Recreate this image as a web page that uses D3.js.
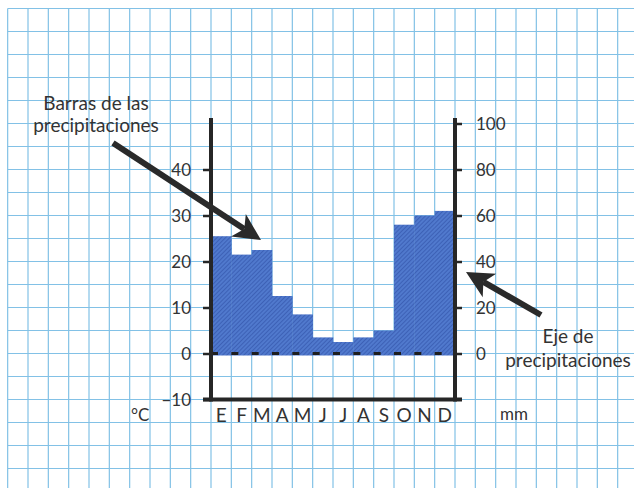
<!DOCTYPE html>
<html>
<head>
<meta charset="utf-8">
<script src="https://cdn.jsdelivr.net/npm/d3@7/dist/d3.min.js"></script>
<style>
  html, body { margin: 0; padding: 0; background: #ffffff; }
  svg { display: block; }
  text { font-family: Lato, "Open Sans", sans-serif; fill: #333333; }
</style>
</head>
<body>
<svg id="chart" width="634" height="488"></svg>
<script>
// ---- data ----
const months = ["E", "F", "M", "A", "M", "J", "J", "A", "S", "O", "N", "D"];
const precipitation = [51, 43, 45, 25, 17, 7, 5, 7, 10, 56, 60, 62]; // mm
const tempTicks = [-10, 0, 10, 20, 30, 40];        // °C
const precipTicks = [0, 20, 40, 60, 80, 100];      // mm
const leftNote = ["Barras de las", "precipitaciones"];
const rightNote = ["Eje de", "precipitaciones"];

const W = 634, H = 488;
const svg = d3.select("#chart");

// ---- scales ----
const x = d3.scaleBand().domain(d3.range(months.length)).range([211, 455]).padding(0);
const yT = d3.scaleLinear().domain([-10, 50]).range([399.5, 123.5]);
const yP = d3.scaleLinear().domain([0, 100]).range([yT(0), yT(50)]);
const bw = x.bandwidth();

// ---- grid paper ----
const gridColor = "#82c1e6";
const gx0 = x(0) - 10 * bw;
const gy0 = yT(75);
const grid = svg.append("g");
const vCols = d3.range(-10, 23 + 10).map(k => x(0) + k * bw).filter(v => v >= gx0 - 0.5 && v <= W);
grid.selectAll("line.v").data(vCols).join("line")
  .attr("x1", d => d).attr("x2", d => d)
  .attr("y1", gy0).attr("y2", H)
  .attr("stroke", gridColor).attr("stroke-width", 1.2);
const hRows = d3.range(75, -35, -5).map(t => yT(t)).filter(v => v >= gy0 - 0.5 && v <= H);
grid.selectAll("line.h").data(hRows).join("line")
  .attr("x1", gx0).attr("x2", W)
  .attr("y1", d => d).attr("y2", d => d)
  .attr("stroke", gridColor).attr("stroke-width", 1.2);

// ---- hatch pattern ----
const defs = svg.append("defs");
const pat = defs.append("pattern").attr("id", "hatch")
  .attr("patternUnits", "userSpaceOnUse").attr("width", 3).attr("height", 3)
  .attr("patternTransform", "rotate(45)");
pat.append("rect").attr("width", 3).attr("height", 3).attr("fill", "#5079cd");
pat.append("line").attr("x1", 0.5).attr("x2", 0.5).attr("y1", 0).attr("y2", 3)
  .attr("stroke", "#3d61b6").attr("stroke-width", 1);

// ---- bars ----
svg.append("g").selectAll("rect").data(precipitation).join("rect")
  .attr("x", (d, i) => x(i))
  .attr("width", bw + 0.3)
  .attr("y", d => yP(d))
  .attr("height", d => yP(0) - yP(d) + 2)
  .attr("fill", "url(#hatch)");

// ---- zero dashed line ----
svg.append("line")
  .attr("x1", x(0)).attr("x2", x(months.length - 1) + bw)
  .attr("y1", yT(0)).attr("y2", yT(0))
  .attr("stroke", "#1e1e1e").attr("stroke-width", 3)
  .attr("stroke-dasharray", "7 " + (bw - 7));

// ---- axes ----
const axisColor = "#262626";
const xl = x(0), xr = x(months.length - 1) + bw;
const yTop = yT(50) - 5.5, yBot = yT(-10);

const leftAxis = svg.append("g").attr("transform", `translate(${xl},0)`)
  .call(d3.axisLeft(yT).tickValues(tempTicks).tickSize(8).tickPadding(12)
    .tickFormat(d => d < 0 ? "\u2212" + Math.abs(d) : d));
leftAxis.select(".domain").remove();
leftAxis.selectAll(".tick line").attr("stroke", axisColor).attr("stroke-width", 2.5);
leftAxis.selectAll(".tick text").style("font-size", "17px").attr("dy", "0.34em")
  .style("font-family", "Lato, sans-serif").attr("fill", "#333333");

const rightAxis = svg.append("g").attr("transform", `translate(${xr},0)`)
  .call(d3.axisRight(yP).tickValues(precipTicks).tickSize(7).tickPadding(14));
rightAxis.select(".domain").remove();
rightAxis.selectAll(".tick line").attr("stroke", axisColor).attr("stroke-width", 2.5);
rightAxis.selectAll(".tick text").style("font-size", "17px").attr("dy", "0.34em")
  .style("font-family", "Lato, sans-serif").attr("fill", "#333333");

// frame lines
svg.append("line").attr("x1", xl).attr("x2", xl).attr("y1", yTop).attr("y2", yBot + 2)
  .attr("stroke", axisColor).attr("stroke-width", 4);
svg.append("line").attr("x1", xr).attr("x2", xr).attr("y1", yTop).attr("y2", yBot + 2)
  .attr("stroke", axisColor).attr("stroke-width", 4);
svg.append("line").attr("x1", xl - 8).attr("x2", xr + 7).attr("y1", yBot).attr("y2", yBot)
  .attr("stroke", axisColor).attr("stroke-width", 4);

// month labels
const bottomAxis = svg.append("g").attr("transform", `translate(0,${yBot})`)
  .call(d3.axisBottom(x).tickSize(0).tickPadding(9).tickFormat(i => months[i]));
bottomAxis.select(".domain").remove();
bottomAxis.selectAll(".tick text").style("font-size", "19px")
  .style("font-family", "Lato, sans-serif").attr("fill", "#333333");

// units
svg.append("text").attr("x", 131).attr("y", 421).style("font-size", "17px").text("\u00B0C");
svg.append("text").attr("x", 500).attr("y", 420).style("font-size", "17px").text("mm");

// ---- annotations ----
function arrow(tail, tip) {
  const dx = tip[0] - tail[0], dy = tip[1] - tail[1];
  const L = Math.hypot(dx, dy), ux = dx / L, uy = dy / L, nx = -uy, ny = ux;
  const headL = 27, headW = 13.5, notch = 20;
  const base = [tip[0] - notch * ux, tip[1] - notch * uy];
  svg.append("line")
    .attr("x1", tail[0]).attr("y1", tail[1]).attr("x2", base[0]).attr("y2", base[1])
    .attr("stroke", "#2a2a2a").attr("stroke-width", 6);
  const b = [tip[0] - headL * ux, tip[1] - headL * uy];
  svg.append("path")
    .attr("d", `M${tip[0]},${tip[1]} L${b[0] + headW * nx},${b[1] + headW * ny} L${base[0]},${base[1]} L${b[0] - headW * nx},${b[1] - headW * ny} Z`)
    .attr("fill", "#2a2a2a");
}
arrow([113, 143], [261, 240]);
arrow([541, 315], [466, 272]);

svg.append("g").selectAll("text").data(leftNote).join("text")
  .attr("x", 96).attr("y", (d, i) => 110 + i * 22).attr("text-anchor", "middle")
  .style("font-size", "19px").text(d => d);
svg.append("g").selectAll("text").data(rightNote).join("text")
  .attr("x", 568).attr("y", (d, i) => 343 + i * 24).attr("text-anchor", "middle")
  .style("font-size", "19px").text(d => d);
</script>
</body>
</html>
